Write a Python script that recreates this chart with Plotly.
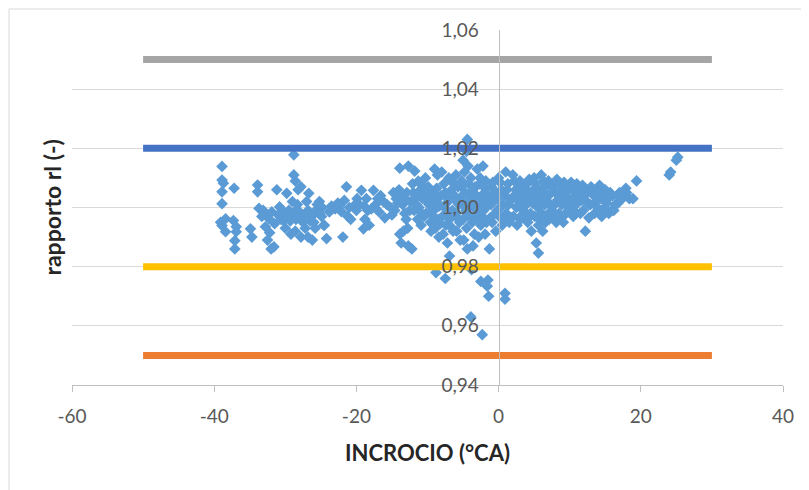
import plotly.graph_objects as go

# ---- data ----
x_ticks = [-60, -40, -20, 0, 20, 40]
x_tick_labels = ["-60", "-40", "-20", "0", "20", "40"]
y_ticks = [0.94, 0.96, 0.98, 1.00, 1.02, 1.04, 1.06]
y_tick_labels = ["0,94", "0,96", "0,98", "1,00", "1,02", "1,04", "1,06"]

limit_x = [-50, 30]
limit_gray = [1.05, 1.05]
limit_blue = [1.02, 1.02]
limit_yellow = [0.98, 0.98]
limit_orange = [0.95, 0.95]

points = [
    (-38.9,1.0139),(-38.9,1.0093),(-38.7,1.0082),(-38.9,1.0053),(-37.2,1.0065),(-38.9,1.0013),(-38.4,0.9962),
    (-38.9,0.9939),(-38.4,0.9918),(-37.3,0.9956),(-36.9,0.9935),(-36.9,0.9918),(-37.1,0.9888),(-37.1,0.9860),
    (-39.1,0.9950),(-34.9,0.9928),(-34.7,0.9900),(-33.9,1.0076),(-33.9,1.0053),(-33.7,0.9997),(-33.1,0.9990),
    (-32.7,0.9975),(-32.3,0.9962),(-32.8,0.9935),(-32.2,0.9915),(-32.5,0.9890),(-32.0,0.9860),(-31.6,0.9867),
    (-31.2,1.0060),(-31.0,0.9975),(-30.4,0.9990),(-30.2,0.9955),(-29.8,1.0048),(-30.0,0.9930),(-30.8,1.0002),
    (-31.5,0.9945),
    (-28.8,1.0178),(-28.8,1.0110),(-28.6,1.0090),(-28.2,1.0060),(-27.8,1.0070),(-26.7,1.0048),(-29.5,0.9990),
    (-29.0,0.9970),(-28.5,0.9960),(-28.0,0.9985),(-27.5,0.9950),(-27.2,0.9930),(-28.6,0.9920),(-29.2,0.9910),
    (-26.8,0.9990),(-26.3,0.9970),(-26.0,0.9950),(-27.8,0.9900),(-26.8,0.9900),(-26.2,0.9890),(-25.5,1.0010),
    (-25.2,0.9980),(-24.6,0.9940),(-24.8,1.0000),(-24.2,0.9895),(-25.8,0.9930),(-29.0,1.0020),(-28.3,1.0010),
    (-27.0,1.0020),
    (-25.2,1.0020),(-24.5,0.9940),(-21.9,0.9900),(-21.7,1.0024),(-21.4,1.0070),(-22.1,0.9986),(-21.2,0.9970),
    (-20.3,1.0007),(-19.3,1.0058),(-18.6,1.0030),(-18.4,0.9990),(-18.8,0.9960),(-18.2,0.9940),(-19.0,0.9928),
    (-17.6,1.0058),(-17.3,1.0010),(-16.8,0.9985),(-16.2,1.0020),(-16.6,1.0040),(-15.2,1.0000),(-14.8,1.0050),
    (-15.0,0.9975),(-14.4,1.0030),(-23.0,0.9995),(-22.6,1.0015),(-20.8,0.9960),(-20.0,0.9990),(-19.6,1.0010),
    (-23.5,1.0005),(-17.9,0.9995),(-16.0,0.9965),
    (-13.9,1.0133),(-12.7,1.0140),(-13.9,0.9910),(-13.7,0.9880),(-12.7,0.9870),(-12.2,0.9860),(-13.2,0.9980),
    (-13.0,0.9960),(-12.8,0.9930),(-13.4,0.9920),(-11.8,1.0123),(-11.3,1.0089),(-10.8,1.0075),(-13.6,1.0040),
    (-14.0,1.0060),(-12.4,1.0020),
    (-12.0,1.0050),(-11.6,1.0010),(-11.9,0.9990),(-11.4,0.9960),(-12.1,1.0080),
    (-11.0,1.0060),(-10.7,1.0030),(-11.2,1.0000),(-10.5,0.9970),(-10.9,0.9940),(-10.3,1.0100),
    (-10.1,1.0040),(-9.8,1.0010),(-10.2,0.9980),(-9.6,0.9950),(-9.9,1.0070),(-9.5,0.9920),
    (-9.0,1.0130),(-8.6,1.0110),(-9.2,1.0050),(-8.8,1.0020),(-9.1,0.9990),(-8.5,0.9960),(-8.9,0.9930),
    (-8.4,0.9900),(-8.8,0.9780),
    (-8.0,1.0120),(-7.7,1.0080),(-8.1,1.0040),(-7.6,1.0000),(-7.9,0.9970),(-7.4,0.9940),(-7.8,0.9910),(-7.2,0.9880),
    (-7.0,1.0100),(-6.6,1.0060),(-7.1,1.0030),(-6.5,0.9990),(-6.9,0.9960),(-6.4,0.9920),(-6.9,0.9836),(-7.5,0.9760),
    (-6.0,1.0110),(-5.7,1.0070),(-6.2,1.0040),(-5.6,1.0010),(-6.0,0.9980),(-5.5,0.9950),(-5.9,0.9920),(-5.4,0.9890),
    (-5.0,1.0160),(-4.8,1.0120),(-5.2,1.0090),(-4.7,1.0050),(-5.1,1.0020),(-4.6,0.9990),(-5.0,0.9960),(-4.5,0.9930),
    (-4.9,0.9890),(-4.4,0.9860),
    (-4.4,1.0230),(-4.5,1.0190),(-4.3,1.0140),(-4.2,1.0010),(-4.0,0.9970),(-3.8,0.9790),
    (-3.9,1.0100),(-3.6,1.0060),(-3.9,1.0030),(-3.5,1.0000),(-3.7,0.9950),(-3.4,0.9910),(-3.6,0.9870),(-3.9,0.9630),
    (-3.0,1.0130),(-2.7,1.0080),(-3.1,1.0040),(-2.6,1.0010),(-2.9,0.9980),(-2.5,0.9940),(-2.8,0.9900),(-2.5,0.9750),
    (-2.2,1.0140),(-1.8,1.0090),(-2.0,1.0050),(-1.6,1.0020),(-2.1,0.9990),(-1.7,0.9950),(-1.9,0.9910),(-1.3,0.9860),
    (-1.6,0.9734),(-2.3,0.9570),
    (-1.0,1.0070),(-0.6,1.0040),(-1.1,1.0010),(-0.5,0.9980),(-0.9,0.9950),(-0.4,0.9920),(-1.5,0.9755),(-1.4,0.9700),
    (0.0,1.0100),(0.4,1.0060),(-0.2,1.0030),(0.3,1.0000),(0.1,0.9970),(0.5,0.9940),
    (1.0,1.0120),(1.3,1.0080),(0.9,1.0040),(1.4,1.0010),(1.1,0.9980),(1.5,0.9950),(0.9,0.9710),(0.9,0.9690),
    (2.0,1.0110),(2.4,1.0060),(1.9,1.0030),(2.5,1.0000),(2.1,0.9970),(2.6,0.9940),
    (3.0,1.0090),(3.4,1.0050),(2.9,1.0020),(3.5,0.9990),(3.1,0.9960),
    (4.0,1.0080),(4.4,1.0040),(3.9,1.0010),(4.5,0.9980),(4.1,0.9950),(4.6,0.9920),
    (5.0,1.0100),(5.4,1.0060),(4.9,1.0030),(5.5,1.0000),(5.1,0.9970),(5.6,0.9940),(5.3,0.9880),(5.6,0.9846),
    (6.0,1.0110),(6.4,1.0070),(5.9,1.0040),(6.5,1.0010),(6.1,0.9980),(6.6,0.9950),(6.2,0.9920),
    (7.0,1.0090),(7.4,1.0050),(6.9,1.0020),(7.5,0.9990),(7.1,0.9960),
    (8.0,1.0080),(8.4,1.0040),(7.9,1.0010),(8.5,0.9980),(8.1,0.9950),
    (9.0,1.0070),(9.4,1.0040),(8.9,1.0010),(9.5,0.9980),(9.1,0.9950),
    (10.0,1.0070),(10.4,1.0030),(9.9,1.0000),(10.5,0.9970),
    (11.0,1.0080),(11.4,1.0040),(10.9,1.0010),(11.5,0.9980),
    (12.0,1.0060),(12.4,1.0020),(11.9,0.9990),(12.2,0.9920),
    (13.0,1.0070),(13.4,1.0040),(12.9,1.0010),(13.5,0.9980),
    (14.0,1.0060),(14.4,1.0030),(13.9,1.0000),(14.5,0.9970),
    (15.0,1.0060),(15.4,1.0030),(14.9,1.0000),(15.5,0.9980),
    (16.0,1.0040),(16.4,1.0010),(15.9,0.9990),
    (17.0,1.0050),(17.4,1.0030),
    (18.0,1.0050),(18.4,1.0030),
    (19.4,1.0090),(18.9,1.0030),
    (24.0,1.0110),(24.2,1.0120),
    (25.0,1.0160),(25.2,1.0170),
    # denser core
    (-13.5,1.0010),(-12.9,1.0050),(-12.5,0.9990),(-11.5,1.0035),(-11.0,0.9985),(-10.4,1.0055),(-10.0,1.0020),
    (-9.4,0.9975),(-9.3,1.0035),(-8.7,1.0065),(-8.3,1.0005),(-8.2,0.9945),(-7.5,1.0050),(-7.3,1.0015),
    (-7.0,0.9975),(-6.7,0.9935),(-6.3,1.0080),(-6.1,1.0025),(-5.8,0.9965),(-5.3,1.0035),(-5.2,1.0070),
    (-4.9,1.0005),(-4.4,0.9975),(-4.2,1.0080),(-4.1,1.0045),(-3.8,1.0015),(-3.3,1.0070),(-3.2,1.0025),
    (-3.0,0.9965),(-2.6,1.0100),(-2.4,1.0035),(-2.3,0.9970),(-1.9,1.0065),(-1.8,1.0000),(-1.4,1.0040),
    (-1.2,0.9965),(-0.8,1.0085),(-0.7,1.0020),(-0.3,1.0050),(-0.2,0.9990),(0.2,1.0085),(0.7,1.0045),
    (0.6,1.0010),(0.7,0.9960),(1.2,1.0060),(1.7,1.0025),(1.8,0.9965),(2.2,1.0090),(2.2,1.0040),(2.8,1.0075),
    (2.7,1.0005),(3.2,1.0035),(3.3,0.9975),(3.7,1.0065),(3.8,1.0025),(4.2,0.9965),(4.3,1.0095),(4.7,1.0055),
    (4.8,1.0015),(5.2,1.0080),(5.3,1.0045),(5.8,1.0025),(5.8,0.9960),(6.3,1.0090),(6.3,1.0055),(6.8,1.0035),
    (6.8,0.9975),(7.2,1.0075),(7.3,1.0005),(7.7,1.0060),(7.7,0.9970),(8.2,1.0095),(8.3,1.0025),(8.7,1.0055),
    (8.8,0.9965),(9.2,1.0085),(9.3,1.0025),(9.7,1.0055),(9.8,0.9990),(10.2,1.0085),(10.3,1.0015),(10.7,1.0050),
    (10.8,0.9985),(11.2,1.0065),(11.7,1.0025),(11.8,1.0075),(12.3,1.0045),(12.7,1.0010),(12.7,0.9965),
    (13.2,1.0055),(13.7,1.0020),(14.2,1.0075),(14.3,0.9985),(14.7,1.0045),(15.2,1.0015),(15.7,1.0050),
    (16.2,0.9990),(16.7,1.0040),(16.8,1.0015),(17.7,1.0040),(17.9,1.0065),
    # denser left part
    (-33.3,0.9970),(-31.9,0.9985),(-30.6,0.9960),(-29.7,0.9975),(-29.3,0.9955),(-28.7,0.9985),(-27.9,0.9960),
    (-27.3,0.9975),(-26.5,0.9955),(-25.9,0.9985),(-24.9,0.9970),(-23.8,0.9985),(-22.4,1.0005),(-21.0,1.0000),
    (-19.9,1.0030),(-18.9,1.0005),(-17.0,1.0030),(-15.7,1.0010),(-14.6,0.9990),(-14.2,1.0015),(-13.0,1.0025),
]
incrocio = [p[0] for p in points]
rapporto = [p[1] for p in points]

FONT = "Lato, 'Open Sans', 'Liberation Sans', sans-serif"

# page body has an 8px offset; plot area target: x 72..783, y 30..385 (screen)
L, T = 64, 22
R = 809 - (783 - 8)
B = 490 - (385 - 8)
PW, PH = 711.0, 355.0

fig = go.Figure()
fig.add_trace(go.Scatter(
    x=incrocio, y=rapporto, mode="markers",
    marker=dict(symbol="diamond", size=9, color="#5B9BD5", line=dict(width=0)),
    showlegend=False, hoverinfo="skip"))

for yv, col in [(limit_gray, "#A5A5A5"), (limit_blue, "#4472C4"),
                (limit_yellow, "#FFC000"), (limit_orange, "#ED7D31")]:
    fig.add_trace(go.Scatter(x=limit_x, y=yv, mode="lines",
                             line=dict(color=col, width=7),
                             showlegend=False, hoverinfo="skip"))

fig.update_layout(
    width=809, height=490,
    margin=dict(l=L, r=R, t=T, b=B, autoexpand=False),
    paper_bgcolor="white", plot_bgcolor="white",
    font=dict(family=FONT, size=18, color="#595959"),
    showlegend=False,
    xaxis=dict(
        range=[-60, 40], tickvals=x_ticks, ticktext=x_tick_labels,
        showgrid=False, zeroline=False,
        showline=True, linecolor="#BFBFBF", linewidth=1,
        ticks="outside", ticklen=6, tickcolor="#BFBFBF",
        ticklabelstandoff=8,
        tickfont=dict(family=FONT, size=19, color="#595959"),
    ),
    yaxis=dict(
        range=[0.94, 1.06], tickvals=y_ticks, ticktext=y_tick_labels,
        anchor="free", position=0.6,
        showgrid=True, gridcolor="#D9D9D9", gridwidth=1,
        zeroline=False,
        showline=True, linecolor="#BFBFBF", linewidth=1,
        ticks="", ticklabelstandoff=16,
        tickfont=dict(family=FONT, size=19, color="#595959"),
    ),
    annotations=[
        dict(text="<b>INCROCIO (°CA)</b>", xref="paper", yref="paper",
             x=0.5, y=-(452 - 385) / PH, xanchor="center", yanchor="middle",
             showarrow=False,
             font=dict(family=FONT, size=22, color="#262626")),
        dict(text="<b>rapporto rl (-)</b>", xref="paper", yref="paper",
             x=(51 - 72) / PW, y=0.5, xanchor="center", yanchor="middle",
             textangle=-90, showarrow=False,
             font=dict(family=FONT, size=23, color="#262626")),
    ],
    shapes=[
        dict(type="rect", xref="paper", yref="paper",
             x0=(-L + 1) / PW, x1=(809 - L + 20) / PW,
             y0=-(B + 20) / PH, y1=1 + (T - 1) / PH,
             line=dict(color="#D9D9D9", width=1), fillcolor="rgba(0,0,0,0)",
             layer="below"),
    ],
)

fig.write_html("out.html")
